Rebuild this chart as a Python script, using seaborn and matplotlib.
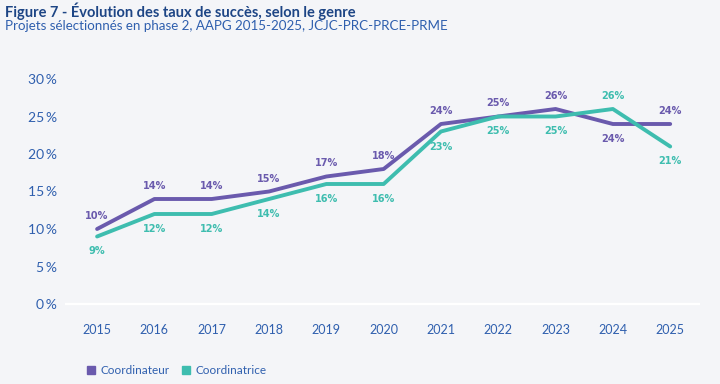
import matplotlib
matplotlib.use('Agg')
import matplotlib.pyplot as plt
import seaborn as sns
import pandas as pd
from matplotlib.lines import Line2D

years = [2015, 2016, 2017, 2018, 2019, 2020, 2021, 2022, 2023, 2024, 2025]
coordinateur = [10, 14, 14, 15, 17, 18, 24, 25, 26, 24, 24]
coordinatrice = [9, 12, 12, 14, 16, 16, 23, 25, 25, 26, 21]
series_names = ["Coordinateur", "Coordinatrice"]
y_ticks = [0, 5, 10, 15, 20, 25, 30]

# label above (+1) or below (-1) the point
pos_coordinateur = [1, 1, 1, 1, 1, 1, 1, 1, 1, -1, 1]
pos_coordinatrice = [-1, -1, -1, -1, -1, -1, -1, -1, -1, 1, -1]

BG = "#f4f5f8"
PURPLE = "#6a5aad"
TEAL = "#3ebdaf"
BLUE = "#2f5fae"
TITLE_BLUE = "#1d4585"

df = pd.DataFrame({
    "year": years * 2,
    "taux": coordinateur + coordinatrice,
    "genre": [series_names[0]] * len(years) + [series_names[1]] * len(years),
})

sns.set_style("white")
plt.rcParams['font.family'] = ['Lato', 'DejaVu Sans']

fig = plt.figure(figsize=(7.2, 3.84), dpi=100)
fig.patch.set_facecolor(BG)
ax = fig.add_axes([65 / 720, 1 - 311.5 / 384, 635 / 720, 240 / 384])
ax.set_facecolor(BG)

sns.lineplot(data=df, x="year", y="taux", hue="genre",
             palette={series_names[0]: PURPLE, series_names[1]: TEAL},
             linewidth=2.8, ax=ax, legend=False, zorder=3)

ax.set_xlim(2014.44, 2025.52)
ax.set_ylim(-1, 31)
ax.set_xticks(years)
ax.set_yticks(y_ticks)
ax.set_yticklabels([f"{v}\u2009%" for v in y_ticks])
ax.set_xlabel("")
ax.set_ylabel("")
for s in ax.spines.values():
    s.set_visible(False)
ax.axhline(0, color="white", lw=1.6, zorder=1)
ax.tick_params(axis="y", direction="in", length=14, width=1.5, color="white",
               pad=6, labelsize=10, labelcolor=BLUE)
ax.tick_params(axis="x", length=0, pad=9, labelsize=9, labelcolor=BLUE)

label_font = dict(family='DejaVu Sans', fontstretch='condensed',
                  fontweight='bold', fontsize=7.8, ha='center', va='center')
for vals, pos, col in [(coordinateur, pos_coordinateur, PURPLE),
                       (coordinatrice, pos_coordinatrice, TEAL)]:
    for x, v, p in zip(years, vals, pos):
        off = 13 if p > 0 else -15
        ax.annotate(f"{v}%", (x, v), xytext=(0, off * 0.72),
                    textcoords="offset points", color=col, **label_font)

handles = [Line2D([], [], marker="s", linestyle="", color=PURPLE, markersize=5.5),
           Line2D([], [], marker="s", linestyle="", color=TEAL, markersize=5.5)]
fig.legend(handles, series_names, loc="center left",
           bbox_to_anchor=(76 / 720, 1 - 371 / 384), ncol=2, frameon=False,
           fontsize=8.5, labelcolor=BLUE, handlelength=0.7, handletextpad=0.45,
           columnspacing=1.1)

fig.text(5 / 720, 1 - 11 / 384, "Figure 7 - Évolution des taux de succès, selon le genre",
         fontsize=10.5, fontweight="bold", color=TITLE_BLUE, va="center")
fig.text(5 / 720, 1 - 26 / 384, "Projets sélectionnés en phase 2, AAPG 2015-2025, JCJC-PRC-PRCE-PRME",
         fontsize=9.6, color=BLUE, va="center")

fig.savefig("out.png", dpi=100, facecolor=BG)
plt.close(fig)
